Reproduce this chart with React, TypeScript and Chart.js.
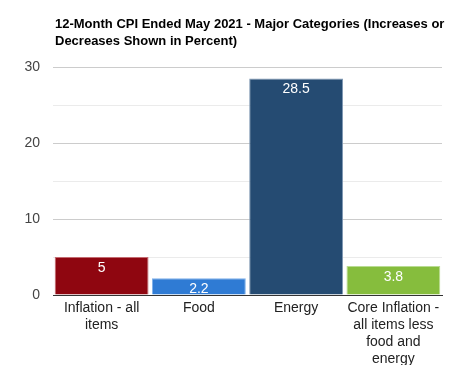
import React, { useEffect, useRef } from "react";
import { Chart, registerables } from "chart.js";

Chart.register(...registerables);

const titleLines = [
  "12-Month CPI Ended May 2021 - Major Categories (Increases or",
  "Decreases Shown in Percent)",
];
const categories = [
  ["Inflation - all", "items"],
  ["Food"],
  ["Energy"],
  ["Core Inflation -", "all items less", "food and", "energy"],
];
const values = [5, 2.2, 28.5, 3.8];
const fillColors = ["#8f0610", "#2f7bd4", "#254b72", "#86bd3d"];
const borderColors = ["#c46a70", "#7fb0ea", "#7f98b3", "#b9dc92"];
const yTicks = [0, 10, 20, 30];

const FONT = "'Liberation Sans', Arial, sans-serif";

const overlayPlugin = {
  id: "overlay",
  afterDatasetsDraw(chart: any) {
    const ctx = chart.ctx;
    const meta = chart.getDatasetMeta(0);
    ctx.save();
    ctx.fillStyle = "#ffffff";
    ctx.font = `14px ${FONT}`;
    ctx.textAlign = "center";
    ctx.textBaseline = "top";
    meta.data.forEach((bar: any, i: number) => {
      ctx.fillText(String(values[i]), bar.x, bar.y + 4);
    });
    ctx.restore();
  },
  afterDraw(chart: any) {
    const ctx = chart.ctx;
    ctx.save();
    ctx.fillStyle = "#000000";
    ctx.font = `bold 13px ${FONT}`;
    ctx.textAlign = "left";
    ctx.textBaseline = "middle";
    titleLines.forEach((line, i) => {
      ctx.fillText(line, chart.chartArea.left + 2, 24 + i * 17);
    });
    ctx.restore();
  },
};

export default function App() {
  const ref = useRef<HTMLCanvasElement>(null);
  useEffect(() => {
    document.body.style.margin = "0";
    const chart = new Chart(ref.current!, {
      type: "bar",
      data: {
        labels: categories,
        datasets: [
          {
            data: values,
            backgroundColor: fillColors,
            borderColor: borderColors,
            borderWidth: 1,
            barPercentage: 0.965,
            categoryPercentage: 1,
          },
        ],
      },
      options: {
        animation: false,
        responsive: false,
        layout: { padding: { top: 67, right: 24, left: 0, bottom: 0 } },
        plugins: {
          legend: { display: false },
          title: { display: false },
          tooltip: { enabled: false },
        },
        scales: {
          x: {
            grid: { display: false, drawTicks: false },
            border: { display: true, color: "#333333", width: 1 },
            ticks: {
              color: "#222222",
              font: { family: FONT, size: 14 },
              padding: 5,
              maxRotation: 0,
              autoSkip: false,
            },
            afterFit: (s: any) => {
              s.height = 70;
            },
          },
          y: {
            min: 0,
            max: 30,
            border: { display: false },
            grid: {
              drawTicks: false,
              color: (c: any) =>
                c.tick.value === 0
                  ? "#333333"
                  : c.tick.value % 10 === 0
                  ? "#cccccc"
                  : "#ebebeb",
            },
            ticks: {
              stepSize: 5,
              color: "#444444",
              font: { family: FONT, size: 14 },
              padding: 13,
              callback: (v: any) => (yTicks.includes(Number(v)) ? String(v) : ""),
            },
            afterFit: (s: any) => {
              s.width = 53;
            },
          },
        },
      },
      plugins: [overlayPlugin],
    });
    return () => chart.destroy();
  }, []);
  return <canvas ref={ref} width={466} height={365} style={{ display: "block" }} />;
}
